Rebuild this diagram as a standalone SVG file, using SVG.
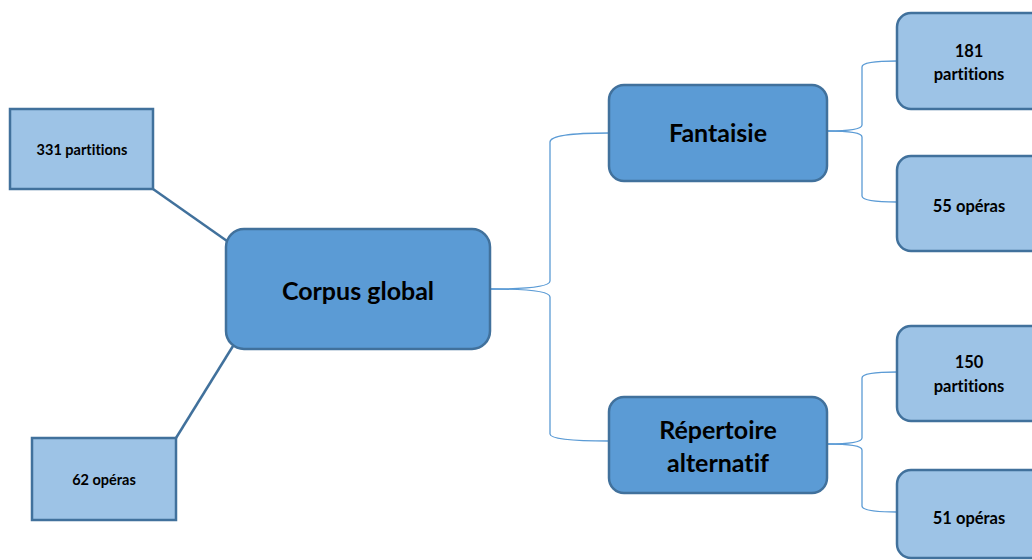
<svg xmlns="http://www.w3.org/2000/svg" width="1032" height="560" viewBox="0 0 1032 560">
<style>
.main{fill:#5B9BD5;stroke:#41719C;stroke-width:2.5}
.leaf{fill:#9DC3E6;stroke:#41719C;stroke-width:2.5}
.br{fill:none;stroke:#5B9BD5;stroke-width:1.3}
.ln{fill:none;stroke:#41719C;stroke-width:2.5}
text{font-family:Lato,"Liberation Sans",sans-serif;font-weight:bold;fill:#000;text-anchor:middle;font-variant-ligatures:none}
.big{font-size:25px}
.mid{font-size:16.5px}
.sm{font-size:14.5px}
</style>
<rect width="1032" height="560" fill="#fff"/>
<g id="connectors">
<line class="ln" x1="153" y1="189" x2="227" y2="241"/>
<line class="ln" x1="176" y1="438" x2="233" y2="346"/>
<path class="br" d="M490,289 Q550,289 550,281 V142 Q550,133 609,133"/>
<path class="br" d="M490,289 Q550,289 550,297 V434 Q550,441 609,441"/>
<path class="br" d="M827,131 Q862,131 862,125 V67 Q862,61 897,61"/>
<path class="br" d="M827,131 Q862,131 862,137 V196 Q862,202 897,202"/>
<path class="br" d="M827,444 Q862,444 862,438 V378 Q862,372 897,372"/>
<path class="br" d="M827,444 Q862,444 862,450 V506 Q862,512 897,512"/>
</g>
<g id="n331">
<rect class="leaf" x="10" y="109" width="143" height="80"/>
<text class="sm" x="82" y="155">331 partitions</text>
</g>
<g id="n62">
<rect class="leaf" x="32" y="438" width="144" height="82"/>
<text class="sm" x="104" y="485">62 opéras</text>
</g>
<g id="corpus">
<rect class="main" x="226" y="229" width="264" height="120" rx="18"/>
<text class="big" x="358" y="300">Corpus global</text>
</g>
<g id="fantaisie">
<rect class="main" x="609" y="85" width="218" height="96" rx="15"/>
<text class="big" x="718" y="142">Fantaisie</text>
</g>
<g id="repertoire">
<rect class="main" x="609" y="397" width="218" height="96" rx="15"/>
<text class="big" x="718" y="439">Répertoire</text>
<text class="big" x="718" y="472">alternatif</text>
</g>
<g id="n181">
<rect class="leaf" x="897" y="13" width="150" height="96" rx="14"/>
<text class="mid" x="969" y="57">181</text>
<text class="mid" x="969" y="80">partitions</text>
</g>
<g id="n55">
<rect class="leaf" x="897" y="156" width="150" height="95" rx="14"/>
<text class="mid" x="969" y="212">55 opéras</text>
</g>
<g id="n150">
<rect class="leaf" x="897" y="326" width="150" height="95" rx="14"/>
<text class="mid" x="969" y="368">150</text>
<text class="mid" x="969" y="392">partitions</text>
</g>
<g id="n51">
<rect class="leaf" x="897" y="470" width="150" height="88" rx="14"/>
<text class="mid" x="969" y="524">51 opéras</text>
</g>
</svg>
